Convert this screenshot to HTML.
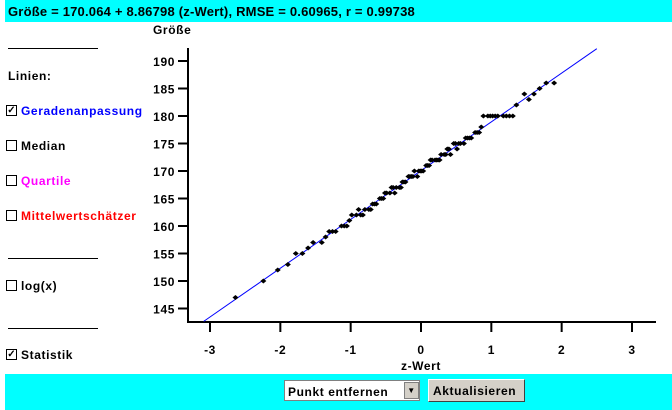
<!DOCTYPE html>
<html><head><meta charset="utf-8"><style>
body{margin:0;width:672px;height:410px;background:#fff;position:relative;overflow:hidden;font-family:"Liberation Sans",Arial,sans-serif;font-weight:bold;font-size:12px;letter-spacing:0.6px;}
.bar{position:absolute;left:5px;right:0;background:#00ffff;}
.t{position:absolute;white-space:nowrap;}
.cb{position:absolute;width:9px;height:9px;border:1px solid #000;background:#fff;font-size:10px;line-height:9px;text-align:center;letter-spacing:0;}
.hl{position:absolute;left:8px;width:90px;height:1px;background:#000;}
</style></head><body>
<div class="bar" style="top:0;height:22px"></div>
<div class="t" style="left:8px;top:4px;font-size:13px;letter-spacing:0.2px">Größe = 170.064 + 8.86798 (z-Wert), RMSE = 0.60965, r = 0.99738</div>
<div class="t" style="left:153px;top:23px">Größe</div>
<div class="hl" style="top:48px"></div>
<div class="t" style="left:8px;top:69px">Linien:</div>
<div class="cb" style="left:6px;top:105px">✓</div><div class="t" style="left:21px;top:104px;color:#0000ff">Geradenanpassung</div>
<div class="cb" style="left:6px;top:140px"></div><div class="t" style="left:21px;top:139px">Median</div>
<div class="cb" style="left:6px;top:175px"></div><div class="t" style="left:21px;top:174px;color:#ff00ff">Quartile</div>
<div class="cb" style="left:6px;top:210px"></div><div class="t" style="left:21px;top:209px;color:#ff0000">Mittelwertschätzer</div>
<div class="hl" style="top:258px"></div>
<div class="cb" style="left:6px;top:280px"></div><div class="t" style="left:21px;top:279px">log(x)</div>
<div class="hl" style="top:328px"></div>
<div class="cb" style="left:6px;top:349px">✓</div><div class="t" style="left:21px;top:348px">Statistik</div>
<svg id="s" style="position:absolute;left:0;top:0" width="672" height="410"></svg>
<div class="bar" style="top:374px;height:36px"></div>
<div style="position:absolute;left:284px;top:380px;width:136px;height:21px;background:#fff;border:1px solid #808080;box-sizing:border-box"></div>
<div class="t" style="left:288px;top:385px">Punkt entfernen</div>
<div style="position:absolute;left:404px;top:382px;width:15px;height:17px;background:#d4d0c8;border:1px solid #808080;box-sizing:border-box;font-size:8px;text-align:center;line-height:15px">▼</div>
<div style="position:absolute;left:428px;top:379px;width:97px;height:23px;background:#d4d0c8;border:1px solid #fff;border-right-color:#404040;border-bottom-color:#404040;box-sizing:border-box"></div>
<div class="t" style="left:433px;top:384px">Aktualisieren</div>
<script>
var s=document.getElementById('s'),h='';
function X(z){return 421+z*70.33;}function Y(v){return 61+(190-v)*5.5;}
h+='<line x1="188" y1="48" x2="188" y2="323" stroke="#000" stroke-width="2"/><line x1="187" y1="322" x2="656" y2="322" stroke="#000" stroke-width="2"/>';
for(var v=145;v<=190;v+=5){var y=Y(v);h+='<line x1="178" y1="'+y+'" x2="188" y2="'+y+'" stroke="#000" stroke-width="2"/><text x="175" y="'+(y+5)+'" text-anchor="end" font-size="12" font-weight="bold" font-family="Liberation Sans" letter-spacing="0.6">'+v+'</text>';}
for(var z=-3;z<=3;z++){var x=X(z);h+='<line x1="'+x+'" y1="322" x2="'+x+'" y2="332" stroke="#000" stroke-width="2"/><text x="'+x+'" y="354" text-anchor="middle" font-size="12" font-weight="bold" font-family="Liberation Sans">'+z+'</text>';}
h+='<text x="421" y="370" text-anchor="middle" font-size="12" font-weight="bold" font-family="Liberation Sans" letter-spacing="0.6">z-Wert</text>';
h+='<line x1="'+X(-3.09)+'" y1="'+Y(170.064-3.09*8.868)+'" x2="'+X(2.5)+'" y2="'+Y(170.064+2.5*8.868)+'" stroke="#0000ff" stroke-width="1"/>';
function qn(p){var a=[-39.696830,220.946098,-275.928510,138.357751,-30.664798,2.506628],b=[-54.476098,161.585836,-155.698979,66.801311,-13.280681],c=[-0.007784894,-0.3223964,-2.400758,-2.549732,4.374664,2.938163],d=[0.007784695,0.3224671,2.445134,3.754408],q,r;
if(p<0.02425){q=Math.sqrt(-2*Math.log(p));return(((((c[0]*q+c[1])*q+c[2])*q+c[3])*q+c[4])*q+c[5])/((((d[0]*q+d[1])*q+d[2])*q+d[3])*q+1);}
if(p>0.97575){q=Math.sqrt(-2*Math.log(1-p));return-(((((c[0]*q+c[1])*q+c[2])*q+c[3])*q+c[4])*q+c[5])/((((d[0]*q+d[1])*q+d[2])*q+d[3])*q+1);}
q=p-0.5;r=q*q;return(((((a[0]*r+a[1])*r+a[2])*r+a[3])*r+a[4])*r+a[5])*q/(((((b[0]*r+b[1])*r+b[2])*r+b[3])*r+b[4])*r+1);}
var n=120;
for(var i=1;i<=n;i++){var z=qn((i-0.5)/n);if(z>2)continue;if(i%6==3&&Math.abs(z)<1.8)continue;var v=Math.round(170.064+8.868*z+0.45*Math.sin(i*1.7));if(z>0.86&&z<1.33)v=180;
var x=X(z),y=Y(v);h+='<polygon points="'+(x-3)+','+y+' '+x+','+(y-2.5)+' '+(x+3)+','+y+' '+x+','+(y+2.5)+'" fill="#000"/>';}
s.innerHTML=h;
</script>
</body></html>
